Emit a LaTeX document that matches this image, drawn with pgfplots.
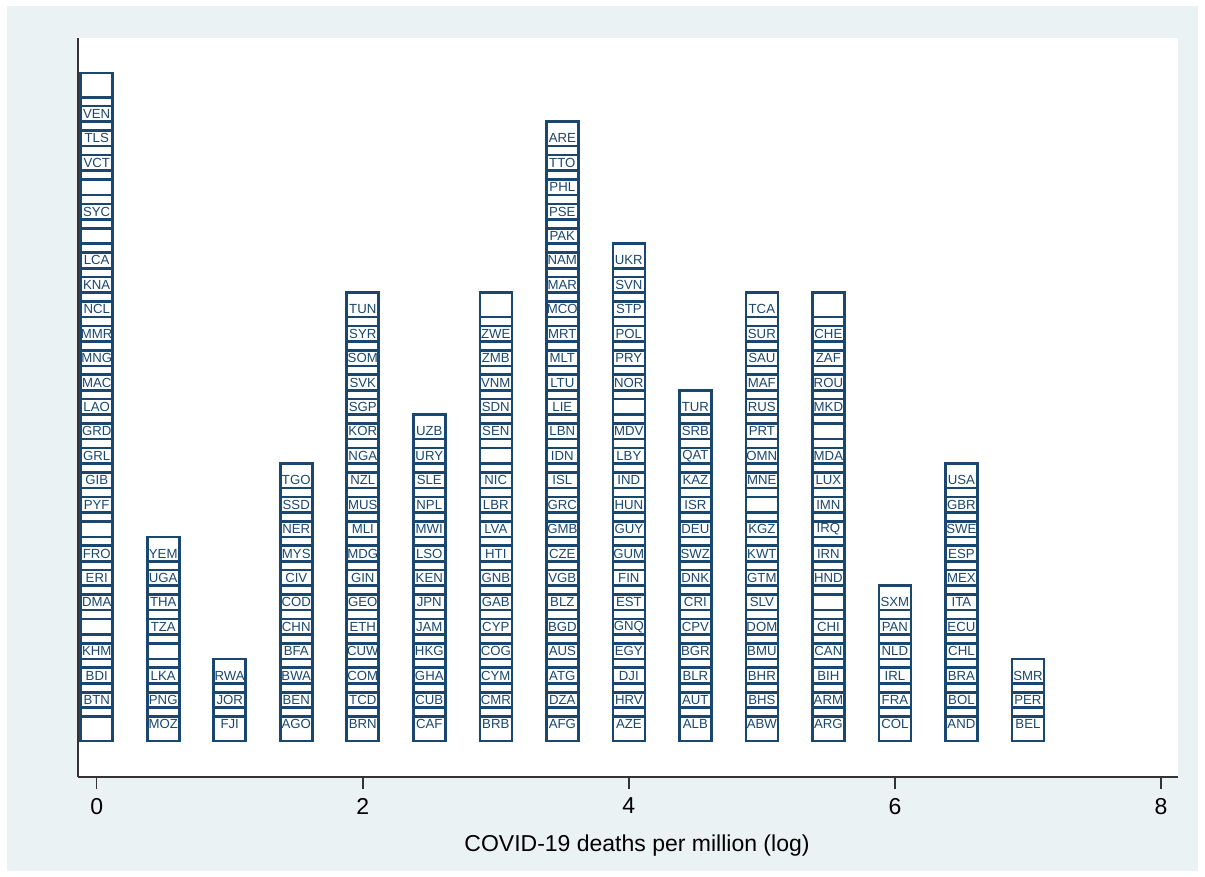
\documentclass[border=0pt]{standalone}
\usepackage{fontspec}
\setmainfont{Liberation Sans}
\usepackage{pgfplots}
\pgfplotsset{compat=1.18}
\definecolor{cnavy}{HTML}{1A476F}
\definecolor{cbg}{HTML}{EAF2F3}
\pgfdeclareplotmark{cbox}{%
  \pgfpathrectangle{\pgfpoint{-8pt}{-8.325pt}}{\pgfpoint{16pt}{16.65pt}}%
  \pgfusepathqstroke}
\pgfplotsset{cb/.style={only marks, mark=cbox, color=cnavy, line width=1.3pt,
     nodes near coords, point meta=explicit symbolic,
     every node near coord/.style={anchor=center, font=\fontsize{6.6pt}{7pt}\selectfont, text=cnavy, inner sep=0pt}}}
\begin{document}
\begin{tikzpicture}
\fill[white] (0,0) rectangle (602.5pt,438.5pt);
\fill[cbg] (3.5pt,3pt) rectangle (599pt,435.5pt);
\begin{axis}[
  at={(39pt,50pt)}, anchor=south west,
  scale only axis, width=550pt, height=369.5pt,
  xmin=-0.1406, xmax=8.128, ymin=-2.154, ymax=28.11,
  axis x line*=bottom, axis y line*=left,
  axis line style={line width=0.75pt, color=black!80, -},
  ytick=\empty,
  xtick={0,2,4,6,8},
  tick align=outside,
  major tick length=6pt,
  tick style={line width=0.75pt, color=black!80},
  axis background/.style={fill=white},
  xlabel={COVID-19 deaths per million (log)},
  tick label style={font=\fontsize{11.5pt}{13pt}\selectfont},
  xticklabel style={yshift=-1pt},
  label style={font=\fontsize{11.5pt}{13pt}\selectfont},
  xlabel style={yshift=-3.5pt, xshift=4.5pt},
  /pgf/number format/assume math mode=true,
  clip=false,
]
% x = 0
\addplot[cb] table[meta=label] {
x y label
0 0 {}
0 1 BTN
0 2 BDI
0 3 KHM
0 4 {}
0 5 DMA
0 6 ERI
0 7 FRO
0 8 {}
0 9 PYF
0 10 GIB
0 11 GRL
0 12 GRD
0 13 LAO
0 14 MAC
0 15 MNG
0 16 MMR
0 17 NCL
0 18 KNA
0 19 LCA
0 20 {}
0 21 SYC
0 22 {}
0 23 VCT
0 24 TLS
0 25 VEN
0 26 {}
};
% x = 0.5
\addplot[cb] table[meta=label] {
x y label
0.5 0 MOZ
0.5 1 PNG
0.5 2 LKA
0.5 3 {}
0.5 4 TZA
0.5 5 THA
0.5 6 UGA
0.5 7 YEM
};
% x = 1
\addplot[cb] table[meta=label] {
x y label
1 0 FJI
1 1 JOR
1 2 RWA
};
% x = 1.5
\addplot[cb] table[meta=label] {
x y label
1.5 0 AGO
1.5 1 BEN
1.5 2 BWA
1.5 3 BFA
1.5 4 CHN
1.5 5 COD
1.5 6 CIV
1.5 7 MYS
1.5 8 NER
1.5 9 SSD
1.5 10 TGO
};
% x = 2
\addplot[cb] table[meta=label] {
x y label
2 0 BRN
2 1 TCD
2 2 COM
2 3 CUW
2 4 ETH
2 5 GEO
2 6 GIN
2 7 MDG
2 8 MLI
2 9 MUS
2 10 NZL
2 11 NGA
2 12 KOR
2 13 SGP
2 14 SVK
2 15 SOM
2 16 SYR
2 17 TUN
};
% x = 2.5
\addplot[cb] table[meta=label] {
x y label
2.5 0 CAF
2.5 1 CUB
2.5 2 GHA
2.5 3 HKG
2.5 4 JAM
2.5 5 JPN
2.5 6 KEN
2.5 7 LSO
2.5 8 MWI
2.5 9 NPL
2.5 10 SLE
2.5 11 URY
2.5 12 UZB
};
% x = 3
\addplot[cb] table[meta=label] {
x y label
3 0 BRB
3 1 CMR
3 2 CYM
3 3 COG
3 4 CYP
3 5 GAB
3 6 GNB
3 7 HTI
3 8 LVA
3 9 LBR
3 10 NIC
3 11 {}
3 12 SEN
3 13 SDN
3 14 VNM
3 15 ZMB
3 16 ZWE
3 17 {}
};
% x = 3.5
\addplot[cb] table[meta=label] {
x y label
3.5 0 AFG
3.5 1 DZA
3.5 2 ATG
3.5 3 AUS
3.5 4 BGD
3.5 5 BLZ
3.5 6 VGB
3.5 7 CZE
3.5 8 GMB
3.5 9 GRC
3.5 10 ISL
3.5 11 IDN
3.5 12 LBN
3.5 13 LIE
3.5 14 LTU
3.5 15 MLT
3.5 16 MRT
3.5 17 MCO
3.5 18 MAR
3.5 19 NAM
3.5 20 PAK
3.5 21 PSE
3.5 22 PHL
3.5 23 TTO
3.5 24 ARE
};
% x = 4
\addplot[cb] table[meta=label] {
x y label
4 0 AZE
4 1 HRV
4 2 DJI
4 3 EGY
4 4 GNQ
4 5 EST
4 6 FIN
4 7 GUM
4 8 GUY
4 9 HUN
4 10 IND
4 11 LBY
4 12 MDV
4 13 {}
4 14 NOR
4 15 PRY
4 16 POL
4 17 STP
4 18 SVN
4 19 UKR
};
% x = 4.5
\addplot[cb] table[meta=label] {
x y label
4.5 0 ALB
4.5 1 AUT
4.5 2 BLR
4.5 3 BGR
4.5 4 CPV
4.5 5 CRI
4.5 6 DNK
4.5 7 SWZ
4.5 8 DEU
4.5 9 ISR
4.5 10 KAZ
4.5 11 QAT
4.5 12 SRB
4.5 13 TUR
};
% x = 5
\addplot[cb] table[meta=label] {
x y label
5 0 ABW
5 1 BHS
5 2 BHR
5 3 BMU
5 4 DOM
5 5 SLV
5 6 GTM
5 7 KWT
5 8 KGZ
5 9 {}
5 10 MNE
5 11 OMN
5 12 PRT
5 13 RUS
5 14 MAF
5 15 SAU
5 16 SUR
5 17 TCA
};
% x = 5.5
\addplot[cb] table[meta=label] {
x y label
5.5 0 ARG
5.5 1 ARM
5.5 2 BIH
5.5 3 CAN
5.5 4 CHI
5.5 5 {}
5.5 6 HND
5.5 7 IRN
5.5 8 IRQ
5.5 9 IMN
5.5 10 LUX
5.5 11 MDA
5.5 12 {}
5.5 13 MKD
5.5 14 ROU
5.5 15 ZAF
5.5 16 CHE
5.5 17 {}
};
% x = 6
\addplot[cb] table[meta=label] {
x y label
6 0 COL
6 1 FRA
6 2 IRL
6 3 NLD
6 4 PAN
6 5 SXM
};
% x = 6.5
\addplot[cb] table[meta=label] {
x y label
6.5 0 AND
6.5 1 BOL
6.5 2 BRA
6.5 3 CHL
6.5 4 ECU
6.5 5 ITA
6.5 6 MEX
6.5 7 ESP
6.5 8 SWE
6.5 9 GBR
6.5 10 USA
};
% x = 7
\addplot[cb] table[meta=label] {
x y label
7 0 BEL
7 1 PER
7 2 SMR
};
\end{axis}
\pgfresetboundingbox
\path (0,0) rectangle (602.5pt,438.5pt);
\end{tikzpicture}
\end{document}
